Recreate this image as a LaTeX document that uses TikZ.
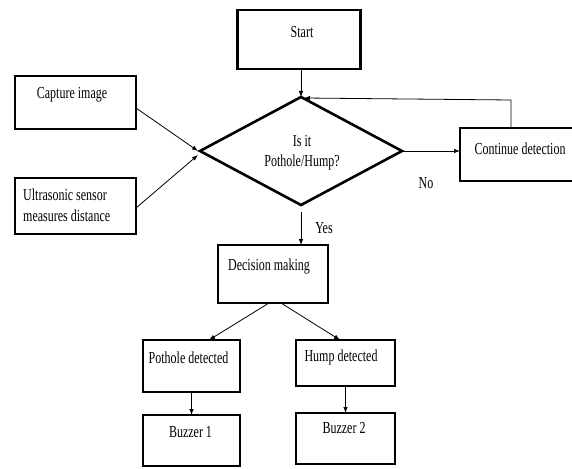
\documentclass[tikz,border=0pt]{standalone}
\usepackage{fontspec}
\usepackage{graphicx}
\setmainfont{Liberation Serif}
\usetikzlibrary{shapes.geometric,arrows.meta}
\newcommand{\vst}[1]{\scalebox{1}[1.4]{#1}}
\begin{document}
\begin{tikzpicture}[x=1pt,y=-1pt,
  box/.style={draw,line width=2.2pt,rectangle,inner sep=0pt,outer sep=0pt},
  lbl/.style={inner sep=0pt,font=\fontsize{12}{14}\selectfont},
  arr/.style={line width=0.8pt,-{Latex[length=6pt,width=4.5pt]}},
  thin/.style={line width=0.8pt}]
\useasboundingbox (0,0) rectangle (572,468);
% boxes
\node[box,minimum width=123pt,minimum height=59pt] (start) at (299,39.5) {};
\node[box,minimum width=121pt,minimum height=53pt] (cap) at (75.5,102.5) {};
\node[box,minimum width=121pt,minimum height=56pt] (ult) at (75.5,206) {};
\node[draw,line width=2.6pt,diamond,inner sep=0pt,outer sep=0pt,minimum width=202pt,minimum height=108pt] (diam) at (301,151) {};
\node[box,minimum width=120pt,minimum height=53pt] (cont) at (520,154.5) {};
\node[box,minimum width=110pt,minimum height=58pt] (dec) at (273,274) {};
\node[box,minimum width=97pt,minimum height=52pt] (pot) at (191.5,366) {};
\node[box,minimum width=99pt,minimum height=46pt] (hump) at (345.5,363) {};
\node[box,minimum width=97pt,minimum height=51pt] (b1) at (191.5,440.5) {};
\node[box,minimum width=99pt,minimum height=51pt] (b2) at (345.5,438.5) {};
% texts
\node[lbl] (tstart) at (302,32) {\vst{Start}};
\node[lbl] (tcap) at (72,95) {\vst{Capture image}};
\node[lbl,anchor=west] (tult1) at (23,195) {\vst{Ultrasonic sensor}};
\node[lbl,anchor=west] (tult2) at (23,216) {\vst{measures distance}};
\node[lbl] (tis) at (302,141) {\vst{Is it}};
\node[lbl] (tph) at (302,162) {\vst{Pothole/Hump?}};
\node[lbl] (tcont) at (520,149) {\vst{Continue detection}};
\node[lbl] (tno) at (426,183) {\vst{No}};
\node[lbl] (tyes) at (324,228) {\vst{Yes}};
\node[lbl] (tdec) at (269,266) {\vst{Decision making}};
\node[lbl] (tpot) at (188.5,358) {\vst{Pothole detected}};
\node[lbl] (thump) at (341,357) {\vst{Hump detected}};
\node[lbl] (tb1) at (190.5,432) {\vst{Buzzer 1}};
\node[lbl] (tb2) at (344,428) {\vst{Buzzer 2}};
% connectors
\coordinate (fb) at (511,100);
\draw[arr] (diam.north |- start.south) -- (diam.north);
\draw[arr] ([yshift=-5.5pt]cap.east) -- ([xshift=-2pt]diam.west);
\draw[arr] ([yshift=-2pt]ult.east) -- ([xshift=-2pt,yshift=-4pt]diam.west);
\draw[arr] (diam.east) -- (diam.east -| cont.west);
\draw[thin,-{Latex[length=6pt,width=4.5pt]}] (cont.north -| fb) -- (fb) -- ([xshift=3pt,yshift=-1pt]diam.north);
\draw[arr] ([yshift=-7pt]diam.south) -- (diam.south |- dec.north);
\draw[arr] ([xshift=-4pt]dec.south) -- ([xshift=17.5pt]pot.north);
\draw[arr] ([xshift=8pt]dec.south) -- ([xshift=-5.5pt]hump.north);
\draw[arr] (pot.south) -- (b1.north);
\draw[arr] (hump.south) -- (b2.north);
\end{tikzpicture}
\end{document}
